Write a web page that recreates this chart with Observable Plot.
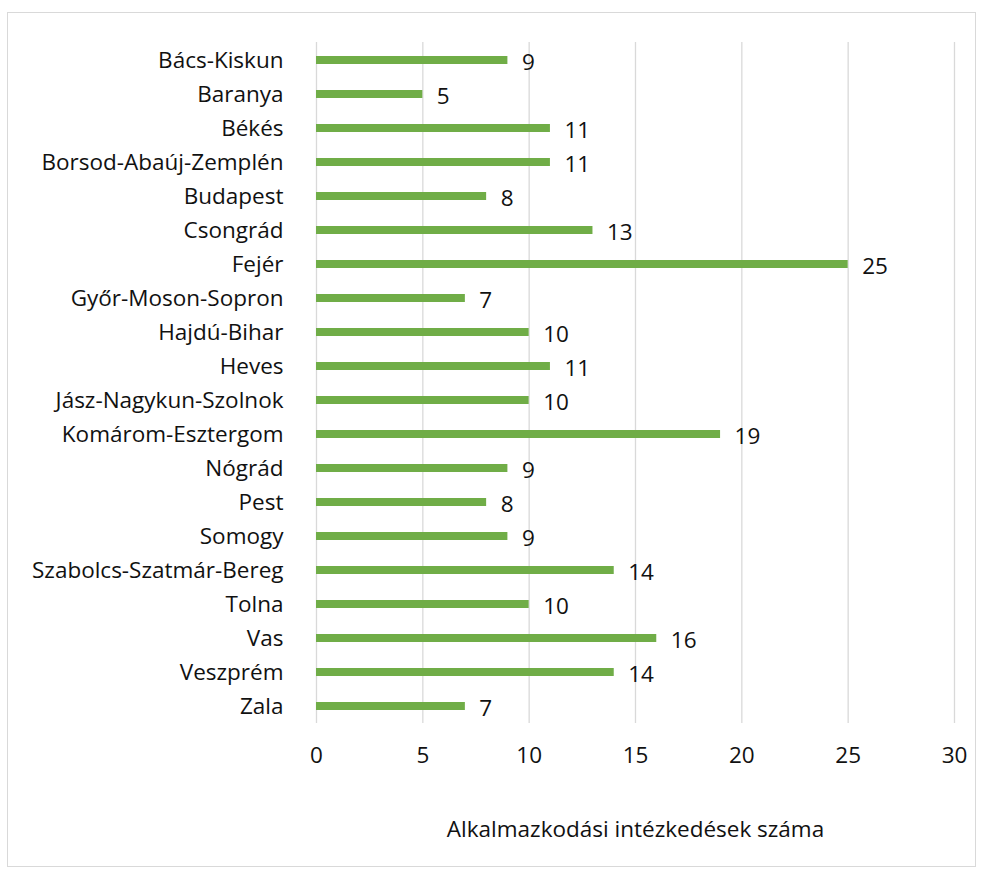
<!DOCTYPE html>
<html>
<head>
<meta charset="utf-8">
<script src="https://cdn.jsdelivr.net/npm/d3@7"></script>
<script src="https://cdn.jsdelivr.net/npm/@observablehq/plot@0.6"></script>
<style>
  html, body { margin: 0; padding: 0; background: #fff; }
  #wrap { position: relative; width: 982px; height: 872px; }
  #border { position: absolute; left: 7px; top: 12px; width: 969px; height: 855px; border: 1.5px solid #d9d9d9; box-sizing: border-box; pointer-events: none; }
  #chart { position: absolute; left: 0; top: 0; }
</style>
</head>
<body>
<div id="wrap"><div id="border"></div><div id="chart"></div></div>
<script>
const regions = ["Bács-Kiskun", "Baranya", "Békés", "Borsod-Abaúj-Zemplén", "Budapest", "Csongrád", "Fejér", "Győr-Moson-Sopron", "Hajdú-Bihar", "Heves", "Jász-Nagykun-Szolnok", "Komárom-Esztergom", "Nógrád", "Pest", "Somogy", "Szabolcs-Szatmár-Bereg", "Tolna", "Vas", "Veszprém", "Zala"];
const counts = [9, 5, 11, 11, 8, 13, 25, 7, 10, 11, 10, 19, 9, 8, 9, 14, 10, 16, 14, 7];
const xTicks = [0, 5, 10, 15, 20, 25, 30];
const axisTitle = "Alkalmazkodási intézkedések száma";

const data = regions.map((r, i) => ({region: r, count: counts[i]}));

const FS = 22.5;
const chart = Plot.plot({
  width: 982,
  height: 872,
  marginLeft: 316,
  marginRight: 28,
  marginTop: 42,
  marginBottom: 149,
  x: {domain: [0, 30], ticks: xTicks, label: null},
  y: {domain: regions, paddingInner: 0.765, paddingOuter: 0.3825, label: null},
  style: {fontFamily: "'Open Sans', sans-serif", fontSize: FS + "px", color: "#111", background: "transparent"},
  marks: [
    Plot.ruleX(xTicks, {stroke: "#d9d9d9", strokeWidth: 1.3}),
    Plot.barX(data, {x: "count", y: "region", fill: "#70ad47"}),
    Plot.text(data, {x: "count", y: "region", text: d => String(d.count), dx: 14, dy: 2, textAnchor: "start", fontSize: FS, fill: "#111"}),
    Plot.axisY({tickSize: 0, tickPadding: 33, fontSize: FS, label: null}),
    Plot.axisX({ticks: xTicks, tickSize: 0, tickPadding: 24, fontSize: FS, label: null}),
    Plot.text([axisTitle], {text: d => d, frameAnchor: "bottom", dy: 113, fontSize: FS, fill: "#111"})
  ]
});
document.getElementById("chart").appendChild(chart);
</script>
</body>
</html>
